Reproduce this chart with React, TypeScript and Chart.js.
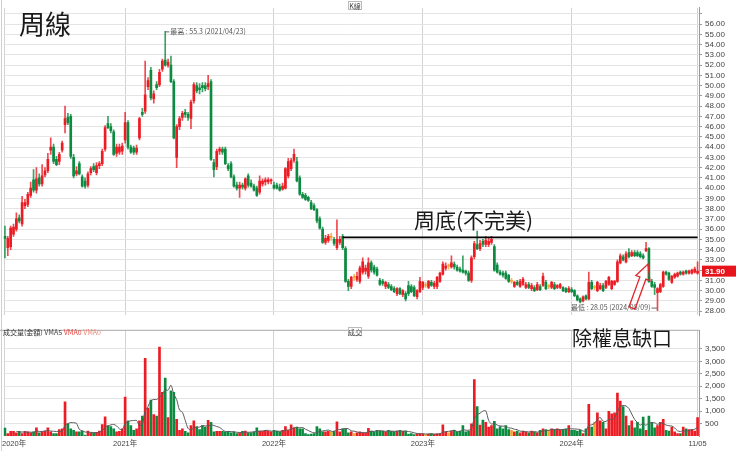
import React, { useEffect, useRef } from "react";
import { Chart, registerables } from "chart.js";
Chart.register(...registerables);

// ---------- data ----------
const START_DATE = "2020-03-16"; // first weekly candle
const LAST_TICK_LABEL = "11/05";

const opens = [
  35.3,34.2,34.3,35.5,36.0,37.1,36.5,38.3,38.4,39.3,
  40.8,39.8,41.0,40.4,41.3,41.7,43.7,44.0,42.8,42.6,
  43.7,46.2,46.9,47.0,43.0,41.4,42.4,41.1,40.7,40.3,
  41.5,42.1,41.5,42.2,42.4,43.8,46.3,46.0,45.5,43.4,
  43.5,43.6,44.7,46.4,44.0,43.9,43.5,44.9,47.4,47.5,
  49.9,51.5,48.7,50.1,50.1,51.6,52.5,52.0,52.0,50.4,
  43.0,46.0,46.9,47.4,47.2,46.8,48.5,50.0,49.8,50.0,
  50.0,49.9,50.4,42.5,42.1,43.6,43.8,43.8,42.2,42.4,
  41.1,40.3,40.0,40.3,40.0,41.2,40.5,40.2,40.0,39.6,
  40.4,40.6,40.6,40.7,40.3,40.3,40.1,39.9,40.0,41.2,
  41.9,42.7,42.6,41.0,39.4,39.3,39.1,38.6,38.3,37.9,
  37.0,36.0,34.7,34.9,35.2,35.0,34.2,34.7,35.3,34.1,
  30.9,30.4,31.3,31.1,30.9,31.8,31.9,31.4,32.7,32.3,
  32.1,31.0,30.9,30.4,30.6,30.4,30.2,29.7,30.2,29.6,
  29.7,30.5,30.4,30.3,29.4,29.9,30.3,30.5,30.3,30.8,
  30.4,30.4,30.9,31.6,32.2,32.4,32.3,32.6,32.3,32.1,
  32.0,31.9,31.7,31.0,33.3,34.5,34.1,34.8,34.5,34.5,
  34.7,34.3,32.5,31.8,31.7,31.7,31.5,30.9,30.4,30.8,
  30.4,30.6,30.3,30.6,30.2,30.3,30.1,30.4,30.5,30.8,
  30.4,30.3,30.6,30.3,30.3,30.3,30.2,29.9,30.1,30.0,
  29.5,29.2,29.0,29.5,29.2,30.8,30.3,30.0,30.2,30.5,
  30.3,30.6,30.2,30.6,30.9,32.7,33.3,32.8,33.7,33.4,
  33.7,33.7,33.6,33.4,33.9,34.1,30.9,30.6,29.8,29.9,
  30.4,31.8,31.7,30.8,31.3,31.4,31.8,31.6,31.9,31.7,
  31.7,31.8,31.7,
];
const highs = [
  36.3,35.3,36.3,36.5,37.6,37.4,39.2,38.9,39.6,40.6,
  41.8,42.0,41.4,42.3,42.0,43.4,44.9,44.3,43.1,43.5,
  44.6,48.0,47.3,47.2,43.3,42.1,42.6,41.3,41.0,41.6,
  42.1,42.4,42.5,42.6,43.8,46.1,47.0,46.3,45.7,44.3,
  44.3,44.4,47.4,46.6,44.2,44.1,44.2,46.9,47.8,52.4,
  50.8,51.8,49.5,50.4,51.6,52.6,55.3,52.6,52.9,50.6,
  46.2,47.0,47.5,47.7,47.4,48.6,50.3,50.3,50.2,50.3,
  50.3,51.0,50.6,42.8,43.8,44.0,44.0,44.0,42.4,42.6,
  41.3,40.6,40.6,40.5,41.0,41.4,40.8,40.4,40.2,41.2,
  40.9,41.0,41.0,40.9,40.6,40.5,40.4,40.5,42.0,42.9,
  42.9,43.8,43.0,41.2,39.6,39.5,39.2,38.8,38.5,38.0,
  37.2,36.2,35.4,35.5,35.6,35.2,36.9,35.3,35.5,34.3,
  31.1,31.4,31.6,31.8,32.4,33.2,32.5,33.2,32.9,32.5,
  32.3,31.2,31.1,30.9,30.8,30.6,30.4,30.3,30.3,30.1,
  29.9,30.9,30.6,30.5,30.1,31.3,30.9,30.8,31.0,31.0,
  30.9,31.4,31.8,32.8,32.7,32.6,33.4,32.8,32.5,32.3,
  33.4,32.0,31.9,33.4,34.8,35.8,34.9,35.0,35.3,35.1,
  35.3,34.5,32.7,32.0,31.9,31.9,31.6,31.2,30.9,31.0,
  31.1,31.3,30.8,30.8,30.7,30.5,30.8,30.6,31.7,31.0,
  30.6,30.9,30.8,30.6,30.7,30.4,30.3,30.4,30.3,30.1,
  29.6,29.3,29.5,29.6,31.8,31.0,30.5,30.9,30.7,30.7,
  31.0,31.4,31.0,31.0,33.0,33.6,33.5,33.8,34.1,33.9,
  33.9,33.9,33.8,33.6,34.7,34.2,31.1,30.8,30.3,30.7,
  31.9,31.9,31.8,31.5,31.7,31.8,31.9,31.9,32.0,32.0,
  32.1,32.3,32.8,
];
const lows = [
  33.2,33.4,34.0,35.3,35.8,36.6,36.3,38.0,38.2,39.1,
  39.6,39.5,40.2,40.2,41.1,41.5,43.3,42.4,42.2,42.3,
  43.5,45.4,46.2,42.9,41.0,41.2,41.3,40.1,40.0,40.1,
  41.3,41.6,41.3,41.9,42.2,43.6,45.8,45.4,43.2,43.1,
  43.3,43.3,44.4,43.8,43.4,43.3,43.3,44.7,47.0,47.3,
  49.6,48.6,48.3,49.6,49.9,51.4,51.9,51.8,50.3,44.8,
  42.0,45.7,46.6,46.9,46.6,45.8,48.3,49.3,49.2,49.4,
  49.5,49.6,42.7,41.1,41.8,43.3,43.3,42.3,41.7,41.0,
  40.1,39.8,39.1,39.9,39.8,40.1,40.1,39.7,39.2,39.4,
  40.2,40.3,40.4,40.4,39.9,39.9,39.7,39.8,39.9,41.0,
  41.7,42.5,40.6,39.3,39.0,38.8,38.7,37.9,37.8,36.6,
  36.0,34.6,34.5,34.7,34.9,34.4,34.0,34.5,34.0,30.8,
  30.0,30.2,31.0,30.9,30.7,31.6,31.6,31.2,31.8,31.6,
  31.4,30.5,30.5,30.2,30.2,30.0,29.8,29.5,29.6,29.4,
  29.0,29.5,29.8,29.4,29.2,29.8,30.1,30.3,30.2,30.4,
  30.2,30.2,30.8,31.5,32.0,32.1,32.2,32.1,31.9,31.8,
  31.7,31.5,30.9,30.8,33.1,34.0,33.9,34.3,34.3,34.3,
  34.5,31.9,31.7,31.5,31.3,31.1,30.8,30.7,30.3,30.5,
  30.3,30.5,30.2,30.2,30.0,29.9,30.0,30.0,30.4,30.1,
  30.2,30.2,30.1,30.2,30.2,29.9,29.8,29.8,29.8,29.4,
  29.0,28.8,28.9,29.1,29.1,30.1,30.1,29.9,30.1,29.9,
  30.2,30.5,30.1,30.5,30.8,32.6,32.9,32.7,33.2,33.3,
  33.3,33.3,33.2,33.1,33.8,30.8,30.3,29.6,28.05,29.8,
  30.3,31.5,31.0,30.7,31.2,31.3,31.5,31.5,31.6,31.6,
  31.6,31.7,31.6,
];
const closes = [
  35.1,35.1,36.1,36.2,37.0,36.8,38.6,38.6,39.4,40.0,
  39.8,40.9,40.4,41.2,41.7,42.8,44.0,42.6,42.3,43.3,
  44.4,46.8,46.4,43.1,41.2,41.7,41.4,40.2,40.2,41.4,
  41.9,41.8,42.2,42.4,43.6,45.9,45.9,45.6,43.3,44.0,
  44.0,44.1,46.4,44.0,43.5,43.5,43.9,46.8,47.2,49.1,
  50.5,48.8,49.2,49.8,51.3,52.4,52.0,52.3,50.4,44.9,
  46.0,46.8,47.3,47.2,46.9,48.4,50.1,49.5,49.6,49.8,
  49.7,50.2,42.8,41.8,43.6,43.8,43.5,42.4,41.9,41.1,
  40.2,40.0,40.3,40.1,40.9,40.3,40.2,39.8,39.3,40.7,
  40.7,40.8,40.8,40.8,40.0,40.0,39.8,40.2,41.9,42.6,
  42.7,43.3,40.7,39.4,39.1,38.9,38.8,38.0,37.9,36.8,
  36.1,34.7,35.1,35.3,35.2,34.6,35.0,35.0,34.2,30.9,
  30.4,31.3,31.3,31.4,32.2,32.8,32.2,32.7,32.0,31.8,
  31.5,30.6,30.7,30.8,30.3,30.1,29.9,30.2,29.7,30.0,
  29.2,29.7,29.9,29.5,30.0,30.9,30.8,30.5,30.9,30.5,
  30.7,31.3,31.7,32.6,32.4,32.4,32.7,32.3,32.0,31.9,
  31.8,31.7,31.0,33.2,34.6,34.1,34.6,34.5,34.9,34.8,
  35.0,32.0,31.8,31.6,31.5,31.2,30.9,30.9,30.8,30.6,
  30.9,31.1,30.6,30.3,30.5,30.0,30.6,30.1,31.4,30.2,
  30.4,30.8,30.2,30.5,30.6,30.0,29.9,30.2,29.9,29.5,
  29.1,28.9,29.4,29.2,30.8,30.2,30.3,30.8,30.5,30.0,
  30.9,31.3,30.9,30.9,32.8,33.4,33.0,33.6,33.3,33.7,
  33.4,33.4,33.3,33.2,34.1,30.9,30.4,30.3,30.2,30.6,
  31.8,31.6,31.1,31.4,31.6,31.7,31.6,31.8,31.7,31.9,
  32.0,32.1,31.9,
];
const volumes = [
  317,100,190,190,130,190,100,190,165,130,
  165,330,130,165,200,330,165,100,100,255,
  290,1370,485,290,230,165,165,200,40,200,
  130,130,150,200,460,775,420,380,290,165,
  190,290,1565,610,420,230,290,610,800,3120,
  1120,1440,865,800,3575,1755,2330,740,1820,1755,
  675,230,290,190,130,420,610,380,255,420,
  355,635,545,165,190,190,190,165,190,130,
  165,100,130,190,200,130,130,165,330,200,
  190,230,190,165,230,190,165,230,380,230,
  445,330,355,290,290,100,60,80,100,380,
  290,165,165,190,165,200,570,165,290,290,
  130,165,100,130,165,130,130,310,200,165,
  230,190,200,165,230,190,165,200,230,190,
  200,80,100,60,80,100,90,60,80,100,
  70,90,100,445,165,130,200,230,165,200,
  420,165,200,485,2265,1180,440,640,545,355,
  420,585,290,380,290,420,255,230,165,200,
  130,200,165,130,200,165,130,230,290,255,
  230,290,255,290,230,255,290,420,230,230,
  200,230,100,290,1270,355,545,930,610,545,
  290,990,890,930,1730,1400,1180,800,420,610,
  330,545,290,765,230,800,545,330,420,545,
  675,230,200,355,165,100,100,355,290,255,
  255,200,740,
];

const priceGridValues = [28,29,30,31,32,33,34,35,36,37,38,39,40,41,42,43,44,45,46,47,48,49,50,51,52,53,54,55,56,57];
const priceLabelMax = 56;
const volumeTickValues = [500,1000,1500,2000,2500,3000,3500];

const NECKLINE_PRICE = 35.2;
const NECKLINE_FROM = 118;
const HIGH_INDEX = 56;
const HIGH_LABEL = "最高 : 55.3 (2021/04/23)";
const LOW_INDEX = 228;
const LOW_LABEL = "最低 : 28.05 (2024/08/09)";
const LAST_PRICE = 31.9;

// ---------- derived ----------
const dates = opens.map((_, i) => {
  const d = new Date(START_DATE + "T00:00:00Z");
  d.setUTCDate(d.getUTCDate() + 7 * i);
  return d.toISOString().slice(0, 10).replace(/-/g, "/");
});
const tickIndices: number[] = [];
dates.forEach((d, i) => {
  if (i === 0 || d.slice(0, 4) !== dates[i - 1].slice(0, 4)) tickIndices.push(i);
});
tickIndices.push(dates.length - 1);
const tickText = (i: number) => (i === dates.length - 1 ? LAST_TICK_LABEL : dates[i].slice(0, 4) + "年");

const UP = "#ec1c24";
const DOWN = "#0c8a40";
const FLAT = "#f4a22c";
const candleColors = opens.map((o, i) => (closes[i] > o ? UP : closes[i] < o ? DOWN : FLAT));
const wickColors = opens.map((o, i) =>
  closes[i] > o ? "rgba(236,28,36,0.8)" : closes[i] < o ? "rgba(12,138,64,0.8)" : "rgba(244,162,44,0.8)"
);
const vma5 = volumes.map((_, i) => {
  if (i < 4) return null;
  let s = 0;
  for (let k = i - 4; k <= i; k++) s += volumes[k];
  return s / 5;
});

const TICK_FONT = { size: 8, family: '"Liberation Sans", Arial, sans-serif' };
const CJK = '"Noto Sans CJK TC", "Noto Sans CJK SC", sans-serif';
const AXIS_W = 41;
const LEFT_PAD = 3.5;

function setXTicks(s: any) {
  s.ticks = tickIndices.map((v) => ({ value: v }));
}

const pricePlugin = {
  id: "priceAnno",
  afterDraw(chart: any) {
    const { ctx, chartArea } = chart;
    const xs = chart.scales.x;
    const ys = chart.scales.y;
    ctx.save();
    // left border
    ctx.strokeStyle = "#cfcfcf";
    ctx.lineWidth = 1;
    ctx.beginPath();
    ctx.moveTo(1.5, 0);
    ctx.lineTo(1.5, chart.height);
    ctx.stroke();
    // title
    ctx.fillStyle = "#1a1a1a";
    ctx.font = "26px " + CJK;
    ctx.textBaseline = "middle";
    ctx.textAlign = "left";
    ctx.fillText("周線", 19, 24);
    // K線 box
    ctx.font = "7px " + CJK;
    ctx.strokeStyle = "#bbbbbb";
    ctx.fillStyle = "#ffffff";
    ctx.fillRect(348, 1, 14, 9);
    ctx.strokeRect(348.5, 1.5, 13, 8);
    ctx.fillStyle = "#444";
    ctx.textAlign = "center";
    ctx.fillText("K線", 355, 6);
    // high label
    const hx = xs.getPixelForValue(HIGH_INDEX);
    const hy = ys.getPixelForValue(highs[HIGH_INDEX]);
    ctx.strokeStyle = "#666";
    ctx.beginPath();
    ctx.moveTo(hx, hy + 0.5);
    ctx.lineTo(hx + 4, hy + 0.5);
    ctx.stroke();
    ctx.fillStyle = "#555";
    ctx.font = "7px " + CJK;
    ctx.textAlign = "left";
    ctx.fillText(HIGH_LABEL, hx + 5, hy);
    // low label
    const lx = xs.getPixelForValue(LOW_INDEX);
    const ly = ys.getPixelForValue(lows[LOW_INDEX]) - 3;
    ctx.beginPath();
    ctx.moveTo(lx - 6, ly + 0.5);
    ctx.lineTo(lx, ly + 0.5);
    ctx.stroke();
    ctx.textAlign = "right";
    ctx.fillText(LOW_LABEL, lx - 7, ly);
    // neckline caption
    ctx.fillStyle = "#1a1a1a";
    ctx.font = "21px " + CJK;
    ctx.textAlign = "left";
    ctx.fillText("周底(不完美)", 414, 220);
    // arrow (hollow, red)
    const tip = { x: 648, y: 264 };
    const tail = { x: 632, y: 308 };
    const dx = tip.x - tail.x, dy = tip.y - tail.y;
    const len = Math.hypot(dx, dy);
    const ux = dx / len, uy = dy / len;
    const px = -uy, py = ux;
    const headLen = 15, headW = 7.5, shaftW = 3.2;
    const bx = tip.x - ux * headLen, by = tip.y - uy * headLen;
    const pts = [
      [tail.x + px * shaftW, tail.y + py * shaftW],
      [bx + px * shaftW, by + py * shaftW],
      [bx + px * headW, by + py * headW],
      [tip.x, tip.y],
      [bx - px * headW, by - py * headW],
      [bx - px * shaftW, by - py * shaftW],
      [tail.x - px * shaftW, tail.y - py * shaftW],
    ];
    ctx.beginPath();
    pts.forEach((p, k) => (k === 0 ? ctx.moveTo(p[0], p[1]) : ctx.lineTo(p[0], p[1])));
    ctx.closePath();
    ctx.strokeStyle = "#e3262c";
    ctx.lineWidth = 1.3;
    ctx.stroke();
    // last price box
    const py2 = ys.getPixelForValue(LAST_PRICE);
    ctx.fillStyle = "#e8141c";
    ctx.fillRect(chartArea.right + 3, py2 - 5.5, 34, 11);
    ctx.fillStyle = "#ffffff";
    ctx.font = "bold 8px " + TICK_FONT.family;
    ctx.textAlign = "left";
    ctx.fillText(LAST_PRICE.toFixed(2), chartArea.right + 6, py2 + 0.5);
    ctx.restore();
  },
};

const volumePlugin = {
  id: "volAnno",
  afterDraw(chart: any) {
    const { ctx, chartArea } = chart;
    const xs = chart.scales.x;
    ctx.save();
    ctx.strokeStyle = "#cfcfcf";
    ctx.lineWidth = 1;
    ctx.beginPath();
    ctx.moveTo(1.5, 0);
    ctx.lineTo(1.5, chart.height);
    ctx.stroke();
    // panel divider
    ctx.strokeStyle = "#a8a8a8";
    ctx.beginPath();
    ctx.moveTo(0, chartArea.top - 0.5);
    ctx.lineTo(chartArea.right, chartArea.top - 0.5);
    ctx.stroke();
    // legend
    ctx.font = "7px " + CJK;
    ctx.textBaseline = "middle";
    ctx.textAlign = "left";
    let x = 3;
    const parts: [string, string][] = [
      ["成交量(金額)", "#333"],
      [" VMA5", "#444"],
      [" VMA0", "#e8413c"],
      [" VMA0", "#ef8a7a"],
    ];
    parts.forEach(([t, c]) => {
      ctx.fillStyle = c;
      ctx.fillText(t, x, 9);
      x += ctx.measureText(t).width;
    });
    // 成交 box
    ctx.fillStyle = "#fff";
    ctx.fillRect(348, 4, 14, 9);
    ctx.strokeStyle = "#bbbbbb";
    ctx.strokeRect(348.5, 4.5, 13, 8);
    ctx.fillStyle = "#444";
    ctx.textAlign = "center";
    ctx.fillText("成交", 355, 9);
    // caption
    ctx.fillStyle = "#1a1a1a";
    ctx.font = "20px " + CJK;
    ctx.textAlign = "left";
    ctx.fillText("除權息缺口", 572, 15);
    // x labels
    ctx.font = "7.5px " + TICK_FONT.family + ", " + CJK;
    ctx.fillStyle = "#444";
    tickIndices.forEach((i, k) => {
      const t = tickText(i);
      if (k === 0) {
        ctx.textAlign = "left";
        ctx.fillText(t, 2, chartArea.bottom + 8);
      } else {
        ctx.textAlign = "center";
        ctx.fillText(t, xs.getPixelForValue(i), chartArea.bottom + 8);
      }
    });
    ctx.restore();
  },
};

export default function App() {
  const priceRef = useRef<HTMLCanvasElement>(null);
  const volRef = useRef<HTMLCanvasElement>(null);

  useEffect(() => {
    const priceChart = new Chart(priceRef.current as HTMLCanvasElement, {
      type: "bar",
      data: {
        labels: dates,
        datasets: [
          {
            type: "line",
            label: "neckline",
            data: dates.map((_, i) => (i === NECKLINE_FROM || i === dates.length - 1 ? NECKLINE_PRICE : null)),
            spanGaps: true,
            borderColor: "#000",
            borderWidth: 1.6,
            pointRadius: 0,
            order: 0,
          } as any,
          {
            type: "bar",
            label: "body",
            data: opens.map((o, i) => [Math.min(o, closes[i]), Math.max(o, closes[i])]),
            backgroundColor: candleColors,
            barThickness: 2,
            minBarLength: 1,
            grouped: false,
            order: 1,
          } as any,
          {
            type: "bar",
            label: "wick",
            data: lows.map((l, i) => [l, highs[i]]),
            backgroundColor: wickColors,
            barThickness: 1,
            grouped: false,
            order: 2,
          } as any,
        ],
      },
      options: {
        responsive: false,
        animation: false,
        events: [],
        layout: { padding: { left: LEFT_PAD, top: 3, bottom: 1, right: 0 } },
        plugins: { legend: { display: false }, tooltip: { enabled: false } },
        scales: {
          x: {
            type: "category",
            offset: true,
            grid: { offset: false, color: "#d2d2d2", drawTicks: false },
            border: { display: false },
            ticks: { display: false },
            afterBuildTicks: setXTicks,
            afterFit: (s: any) => { s.height = 0; },
          },
          y: {
            position: "right",
            min: 27.6,
            max: 57.6,
            afterBuildTicks: (s: any) => { s.ticks = priceGridValues.map((v) => ({ value: v })); },
            afterFit: (s: any) => { s.width = AXIS_W; },
            grid: { color: "#e4e4e4", tickColor: "#9a9a9a", tickLength: 3 },
            border: { color: "#9a9a9a" },
            ticks: {
              autoSkip: false,
              font: TICK_FONT,
              color: "#444",
              padding: 3,
              callback: (v: any) => (Number(v) > priceLabelMax ? "" : Number(v).toFixed(2)),
            },
          },
        },
      } as any,
      plugins: [pricePlugin],
    });

    const volChart = new Chart(volRef.current as HTMLCanvasElement, {
      type: "bar",
      data: {
        labels: dates,
        datasets: [
          {
            type: "line",
            label: "VMA5",
            data: vma5,
            borderColor: "#5a5a5a",
            borderWidth: 1,
            pointRadius: 0,
            tension: 0.3,
            order: 0,
          } as any,
          {
            type: "bar",
            label: "volume",
            data: volumes,
            backgroundColor: candleColors,
            barThickness: 2,
            order: 1,
          } as any,
        ],
      },
      options: {
        responsive: false,
        animation: false,
        events: [],
        layout: { padding: { left: LEFT_PAD, top: 2, bottom: 0, right: 0 } },
        plugins: { legend: { display: false }, tooltip: { enabled: false } },
        scales: {
          x: {
            type: "category",
            offset: true,
            grid: { offset: false, color: "#d2d2d2", drawTicks: false },
            border: { display: false },
            ticks: { display: false },
            afterBuildTicks: setXTicks,
            afterFit: (s: any) => { s.height = 15; },
          },
          y: {
            position: "right",
            min: 0,
            max: 4230,
            afterBuildTicks: (s: any) => { s.ticks = volumeTickValues.map((v) => ({ value: v })); },
            afterFit: (s: any) => { s.width = AXIS_W; },
            grid: { color: "#e4e4e4", tickColor: "#9a9a9a", tickLength: 3 },
            border: { color: "#9a9a9a" },
            ticks: {
              autoSkip: false,
              font: TICK_FONT,
              color: "#444",
              padding: 3,
              callback: (v: any) => Number(v).toLocaleString("en-US"),
            },
          },
        },
      } as any,
      plugins: [volumePlugin],
    });

    return () => {
      priceChart.destroy();
      volChart.destroy();
    };
  }, []);

  return (
    <div style={{ position: "fixed", left: 0, top: 0, width: 740, height: 451, background: "#fff" }}>
      <canvas ref={priceRef} width={740} height={323} style={{ position: "absolute", left: 0, top: 0, display: "block" }} />
      <canvas ref={volRef} width={740} height={128} style={{ position: "absolute", left: 0, top: 323, display: "block" }} />
    </div>
  );
}
